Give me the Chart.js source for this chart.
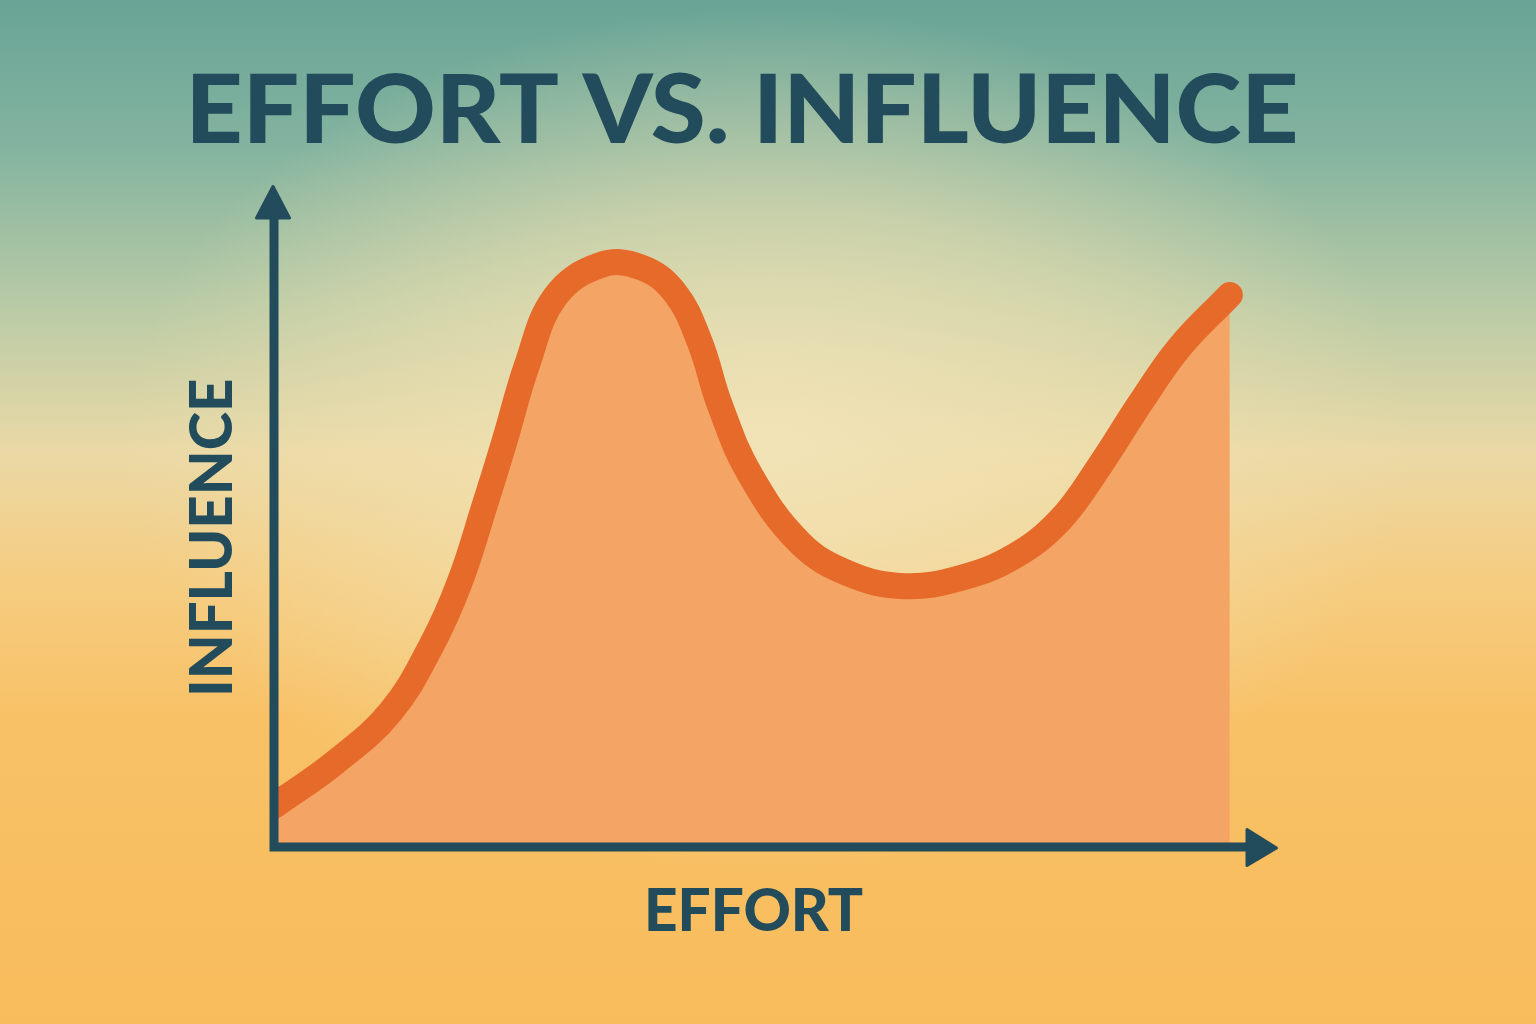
<!DOCTYPE html>
<html>
<head>
<meta charset="utf-8">
<script src="https://cdn.jsdelivr.net/npm/chart.js@4.4.1/dist/chart.umd.min.js"></script>
<style>
html,body{margin:0;padding:0;overflow:hidden;background:#f7bd5e;}
#wrap{width:1536px;height:1024px;position:relative;}
canvas{display:block;}
</style>
</head>
<body>
<div id="wrap"><canvas id="c" width="1536" height="1024"></canvas></div>
<script>
// ---- Data ----
const titleText = 'EFFORT VS. INFLUENCE';
const xAxisLabel = 'EFFORT';
const yAxisLabel = 'INFLUENCE';

const effort    = [0.0, 6.1, 11.6, 15.7, 18.5, 21.0, 23.0, 25.2, 28.0, 32.5, 36.5, 39.9, 42.4, 44.4, 47.4, 52.4, 57.4, 62.8, 68.3, 73.6, 78.3, 82.3, 86.3, 90.2, 95.2];
const influence = [6.2, 12.8, 20.4, 30.5, 40.0, 51.7, 61.5, 72.8, 83.1, 87.9, 87.6, 83.8, 76.3, 66.8, 56.3, 45.9, 41.2, 39.4, 40.6, 43.8, 49.4, 57.7, 67.1, 75.5, 83.4];

const xMin = 0, xMax = 100, yMin = 0, yMax = 100;

// ---- Styles ----
const INK = '#224b5b';
const LINE = '#e66a2a';
const AREA = '#f4a465';
const FONT = 'Lato, "Open Sans", sans-serif';

function drawFittedText(ctx, text, x, baseY, capH, width, rotated) {
  ctx.save();
  ctx.font = '900 100px ' + FONT;
  const capRef = ctx.measureText('E').actualBoundingBoxAscent || 72;
  const size = 100 * capH / capRef;
  ctx.font = '900 ' + size.toFixed(2) + 'px ' + FONT;
  const m = ctx.measureText(text);
  const w = m.actualBoundingBoxLeft + m.actualBoundingBoxRight;
  const sx = width / w;
  ctx.translate(x, baseY);
  if (rotated) ctx.rotate(-Math.PI / 2);
  ctx.scale(sx, 1);
  ctx.fillStyle = INK;
  ctx.textBaseline = 'alphabetic';
  ctx.textAlign = 'left';
  ctx.fillText(text, m.actualBoundingBoxLeft, 0);
  ctx.restore();
}

const decor = {
  id: 'decor',
  beforeDraw(chart) {
    const ctx = chart.ctx, W = chart.width, H = chart.height;
    ctx.save();
    const g = ctx.createLinearGradient(0, 0, 0, H);
    g.addColorStop(0.00, '#69a496');
    g.addColorStop(0.14, '#82b39f');
    g.addColorStop(0.30, '#b9cba6');
    g.addColorStop(0.44, '#ead9a6');
    g.addColorStop(0.56, '#f5cd82');
    g.addColorStop(0.70, '#f8c166');
    g.addColorStop(1.00, '#f8bc5c');
    ctx.fillStyle = g;
    ctx.fillRect(0, 0, W, H);
    // soft cream glow in the middle
    ctx.translate(W * 0.5, H * 0.43);
    ctx.scale(1.5, 1);
    const r = ctx.createRadialGradient(0, 0, 0, 0, 0, 430);
    r.addColorStop(0, 'rgba(242,228,184,0.9)');
    r.addColorStop(0.55, 'rgba(242,226,178,0.5)');
    r.addColorStop(1, 'rgba(242,226,178,0)');
    ctx.fillStyle = r;
    ctx.beginPath();
    ctx.arc(0, 0, 430, 0, Math.PI * 2);
    ctx.fill();
    ctx.restore();
  },
  afterDatasetsDraw(chart) {
    const ctx = chart.ctx;
    const a = chart.chartArea;
    const ax = a.left, ay = a.bottom;
    ctx.save();
    ctx.strokeStyle = INK;
    ctx.fillStyle = INK;
    ctx.lineWidth = 9;
    ctx.lineJoin = 'miter';
    ctx.lineCap = 'butt';
    ctx.beginPath();
    ctx.moveTo(ax, a.top + 30);
    ctx.lineTo(ax, ay);
    ctx.lineTo(a.right - 30, ay);
    ctx.stroke();
    // arrow heads
    ctx.lineJoin = 'round';
    ctx.lineWidth = 3;
    ctx.beginPath();
    ctx.moveTo(ax - 1, a.top + 1.5);
    ctx.lineTo(ax + 15.5, a.top + 33);
    ctx.lineTo(ax - 17.5, a.top + 33);
    ctx.closePath();
    ctx.fill(); ctx.stroke();
    ctx.beginPath();
    ctx.moveTo(a.right - 1.5, ay + 1);
    ctx.lineTo(a.right - 31, ay - 17.5);
    ctx.lineTo(a.right - 31, ay + 18.5);
    ctx.closePath();
    ctx.fill(); ctx.stroke();
    ctx.restore();
  },
  afterDraw(chart) {
    const ctx = chart.ctx;
    drawFittedText(ctx, titleText, 193, 143, 68, 1102, false);
    drawFittedText(ctx, xAxisLabel, 648, 930.5, 42.5, 214.5, false);
    drawFittedText(ctx, yAxisLabel, 232, 693, 42, 313, true);
  }
};

const points = effort.map((e, i) => ({ x: e, y: influence[i] }));

new Chart(document.getElementById('c'), {
  type: 'line',
  data: {
    datasets: [{
      label: 'Influence',
      data: points,
      borderColor: LINE,
      backgroundColor: AREA,
      borderWidth: 26,
      fill: 'origin',
      pointRadius: 0,
      tension: 0.4,
      borderCapStyle: 'round',
      borderJoinStyle: 'round',
      clip: { left: 0, top: 40, right: 40, bottom: 0 }
    }]
  },
  options: {
    responsive: false,
    animation: false,
    devicePixelRatio: 1,
    events: [],
    layout: { padding: { left: 274, right: 258, top: 185, bottom: 177 } },
    scales: {
      x: { type: 'linear', min: xMin, max: xMax, display: false },
      y: { type: 'linear', min: yMin, max: yMax, display: false }
    },
    plugins: { legend: { display: false }, tooltip: { enabled: false }, title: { display: false } }
  },
  plugins: [decor]
});
</script>
</body>
</html>
